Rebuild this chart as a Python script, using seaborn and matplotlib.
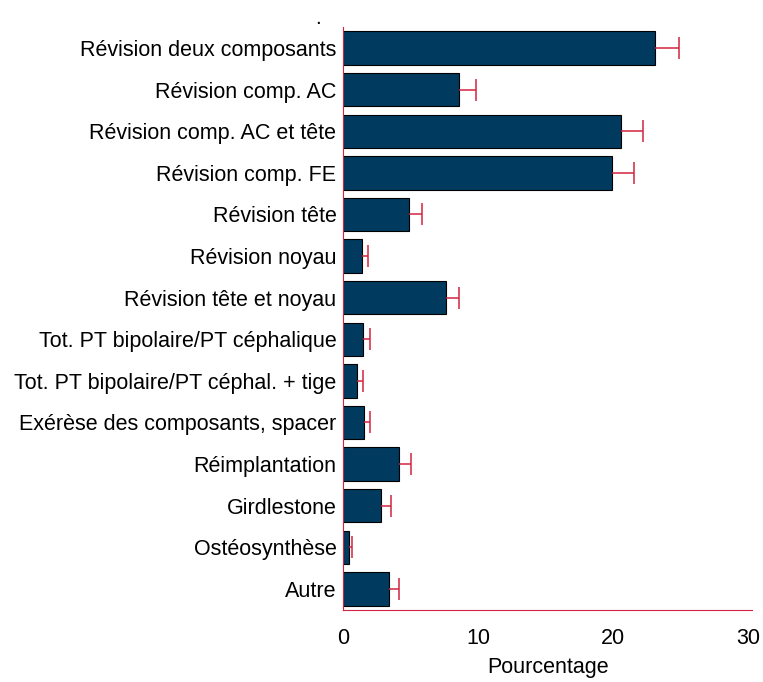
import seaborn as sns
import matplotlib.pyplot as plt
import pandas as pd
import numpy as np

categories = [
    "Révision deux composants",
    "Révision comp. AC",
    "Révision comp. AC et tête",
    "Révision comp. FE",
    "Révision tête",
    "Révision noyau",
    "Révision tête et noyau",
    "Tot. PT bipolaire/PT céphalique",
    "Tot. PT bipolaire/PT céphal. + tige",
    "Exérèse des composants, spacer",
    "Réimplantation",
    "Girdlestone",
    "Ostéosynthèse",
    "Autre",
]
values = [23.1, 8.6, 20.6, 19.9, 4.85, 1.37, 7.6, 1.45, 1.02, 1.52, 4.16, 2.8, 0.39, 3.37]
upper = [24.9, 9.8, 22.2, 21.5, 5.8, 1.8, 8.6, 1.94, 1.42, 1.99, 5.0, 3.52, 0.65, 4.13]

df = pd.DataFrame({"cat": categories, "pct": values, "upper": upper})

sns.set_style("white")
plt.rcParams['font.family'] = ['Liberation Sans', 'DejaVu Sans']
plt.rcParams['text.color'] = 'black'
plt.rcParams['xtick.color'] = 'black'
plt.rcParams['ytick.color'] = 'black'
plt.rcParams['axes.labelcolor'] = 'black'

red = "#D22340"

fig = plt.figure(figsize=(7.63, 6.82), dpi=100)
ax = fig.add_axes([0.450, 0.106, 0.536, 0.854])

sns.barplot(data=df, x="pct", y="cat", color="#003A5E", saturation=1,
            width=0.8, edgecolor="black", linewidth=0.8, ax=ax)

# barres d'erreur seulement vers la droite
pos = np.arange(len(df))
ax.hlines(pos, df["pct"], df["upper"], color=red, linewidth=1.1, zorder=3)
ax.plot(df["upper"], pos, linestyle="none", marker="|", markersize=16,
        markeredgewidth=1.1, color=red, zorder=3)

ax.set_xlim(0, 30.3)
ax.set_ylim(13.5, -0.5)
ax.set_xticks([0, 10, 20, 30])
ax.tick_params(axis="x", direction="out", length=5, color=red, labelsize=15.5, pad=8)
ax.tick_params(axis="y", length=0, labelsize=15.5, pad=5)
sns.despine(ax=ax)
ax.spines["left"].set_color(red)
ax.spines["bottom"].set_color(red)
ax.set_ylabel("")
ax.set_xlabel("Pourcentage", fontsize=15.5, labelpad=6)
fig.text(0.417, 0.965, ".", fontsize=15, ha="center")

plt.savefig("out.png")
